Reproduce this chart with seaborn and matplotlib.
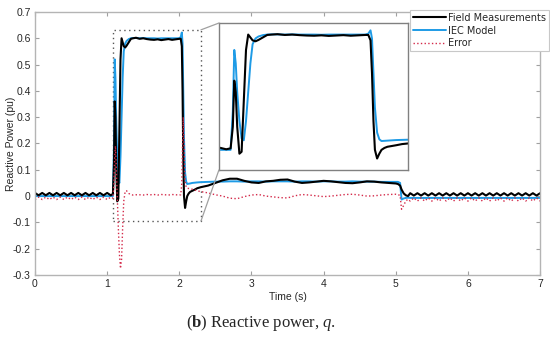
import matplotlib
matplotlib.use('Agg')
import pandas as pd
import matplotlib.pyplot as plt
from matplotlib.patches import Rectangle, ConnectionPatch
import seaborn as sns

# sample times (s), denser around the transients
time = [
    0.00, 0.05, 0.10, 0.15, 0.20, 0.25, 0.30, 0.35, 0.40, 0.45, 0.50,
    0.55, 0.60, 0.65, 0.70, 0.75, 0.80, 0.85, 0.90, 0.95, 1.00, 1.05,
    1.08, 1.095, 1.105, 1.115, 1.125, 1.14, 1.155, 1.17, 1.185, 1.20,
    1.215, 1.23, 1.25, 1.27, 1.30, 1.33, 1.36, 1.40,
    1.45, 1.50, 1.55, 1.60, 1.65, 1.70, 1.75, 1.80, 1.85, 1.90, 1.95, 2.00,
    2.02, 2.035, 2.045, 2.055, 2.065, 2.08, 2.095, 2.11, 2.13, 2.15, 2.18,
    2.21, 2.25, 2.30,
    2.40, 2.50, 2.60, 2.70, 2.80, 2.90, 3.00, 3.10, 3.20, 3.30, 3.40,
    3.50, 3.60, 3.70, 3.80, 3.90, 4.00, 4.10, 4.20, 4.30, 4.40, 4.50,
    4.60, 4.70, 4.80, 4.90, 5.00,
    5.03, 5.06, 5.08, 5.11, 5.14, 5.17,
    5.20, 5.25, 5.30, 5.35, 5.40, 5.45, 5.50, 5.55, 5.60, 5.65, 5.70,
    5.75, 5.80, 5.85, 5.90, 5.95, 6.00, 6.05, 6.10, 6.15, 6.20, 6.25,
    6.30, 6.35, 6.40, 6.45, 6.50, 6.55, 6.60, 6.65, 6.70, 6.75, 6.80,
    6.85, 6.90, 6.95, 7.00,
]

field = [
    0.012, 0.003, 0.012, 0.003, 0.012, 0.003, 0.012, 0.003, 0.012, 0.003, 0.012,
    0.003, 0.012, 0.003, 0.012, 0.003, 0.012, 0.003, 0.012, 0.003, 0.012, 0.003,
    0.008, 0.12, 0.36, 0.30, 0.12, -0.02, -0.01, 0.25, 0.52, 0.60,
    0.585, 0.57, 0.565, 0.572, 0.585, 0.598, 0.600, 0.602,
    0.598, 0.600, 0.597, 0.595, 0.594, 0.596, 0.593, 0.595, 0.597, 0.594, 0.596, 0.598,
    0.598, 0.57, 0.40, 0.15, 0.00, -0.045, -0.02, 0.000, 0.010, 0.016, 0.020,
    0.024, 0.030, 0.034,
    0.040, 0.050, 0.060, 0.066, 0.066, 0.058, 0.052, 0.050, 0.056, 0.058, 0.062,
    0.063, 0.055, 0.050, 0.052, 0.055, 0.058, 0.056, 0.053, 0.050, 0.049, 0.052,
    0.056, 0.055, 0.052, 0.050, 0.048,
    0.046, 0.040, 0.025, 0.010, 0.003, 0.000,
    0.011, 0.002, 0.011, 0.002, 0.011, 0.002, 0.011, 0.002, 0.011, 0.002, 0.011,
    0.002, 0.011, 0.002, 0.011, 0.002, 0.011, 0.002, 0.011, 0.002, 0.011, 0.002,
    0.011, 0.002, 0.011, 0.002, 0.011, 0.002, 0.011, 0.002, 0.011, 0.002, 0.011,
    0.002, 0.011, 0.002, 0.011,
]

iec = [
    0.000, 0.000, 0.000, 0.000, 0.000, 0.000, 0.000, 0.000, 0.000, 0.000, 0.000,
    0.000, 0.000, 0.000, 0.000, 0.000, 0.000, 0.000, 0.000, 0.000, 0.000, 0.000,
    0.000, 0.20, 0.52, 0.45, 0.30, 0.15, 0.06, 0.05, 0.15, 0.30,
    0.45, 0.55, 0.58, 0.59, 0.597, 0.600, 0.601, 0.601,
    0.600, 0.601, 0.600, 0.600, 0.600, 0.599, 0.600, 0.600, 0.600, 0.600, 0.600, 0.600,
    0.605, 0.622, 0.58, 0.40, 0.22, 0.09, 0.055, 0.046, 0.047, 0.048, 0.050,
    0.051, 0.052, 0.053,
    0.054, 0.055, 0.055, 0.056, 0.056, 0.055, 0.056, 0.056, 0.055, 0.056, 0.056,
    0.056, 0.055, 0.056, 0.056, 0.055, 0.056, 0.056, 0.055, 0.055, 0.056, 0.055,
    0.055, 0.055, 0.054, 0.054, 0.054,
    0.054, 0.050, -0.013, -0.009, -0.007, -0.006,
    -0.007, -0.007, -0.007, -0.007, -0.007, -0.007, -0.007, -0.007, -0.007, -0.007, -0.007,
    -0.007, -0.007, -0.007, -0.007, -0.007, -0.007, -0.007, -0.007, -0.007, -0.007, -0.007,
    -0.007, -0.007, -0.007, -0.007, -0.007, -0.007, -0.007, -0.007, -0.007, -0.007, -0.007,
    -0.007, -0.007, -0.007, -0.007,
]

error = [
    -0.013, -0.004, -0.013, -0.004, -0.013, -0.004, -0.013, -0.004, -0.013, -0.004, -0.013,
    -0.004, -0.013, -0.004, -0.013, -0.004, -0.013, -0.004, -0.013, -0.004, -0.013, -0.004,
    -0.008, 0.05, 0.15, 0.19, 0.12, 0.00, -0.12, -0.22, -0.275, -0.24,
    -0.12, -0.02, 0.018, 0.020, 0.010, 0.005, 0.004, 0.005,
    0.005, 0.004, 0.006, 0.005, 0.006, 0.004, 0.006, 0.005, 0.004, 0.006, 0.005, 0.004,
    0.005, 0.05, 0.20, 0.30, 0.20, 0.06, 0.035, 0.030, 0.029, 0.028, 0.026,
    0.024, 0.020, 0.017,
    0.012, 0.005, 0.000, -0.008, -0.010, -0.002, 0.004, 0.006, 0.000, -0.003, -0.006,
    -0.007, 0.001, 0.006, 0.004, 0.001, -0.002, 0.000, 0.003, 0.006, 0.007, 0.004,
    0.000, 0.001, 0.004, 0.006, 0.007,
    0.006, 0.002, -0.050, -0.035, -0.018, -0.012,
    -0.019, -0.007, -0.019, -0.007, -0.019, -0.007, -0.019, -0.007, -0.019, -0.007, -0.019,
    -0.007, -0.019, -0.007, -0.019, -0.007, -0.019, -0.007, -0.019, -0.007, -0.019, -0.007,
    -0.019, -0.007, -0.019, -0.007, -0.019, -0.007, -0.019, -0.007, -0.019, -0.007, -0.019,
    -0.007, -0.019, -0.007, -0.019,
]

x_ticks = [0, 1, 2, 3, 4, 5, 6, 7]
y_ticks = [-0.3, -0.2, -0.1, 0, 0.1, 0.2, 0.3, 0.4, 0.5, 0.6, 0.7]
y_tick_labels = ['-0.3', '-0.2', '-0.1', '0', '0.1', '0.2', '0.3', '0.4', '0.5', '0.6', '0.7']

df = pd.DataFrame({'t': time, 'field': field, 'iec': iec, 'error': error})

sns.set_style('ticks')
plt.rcParams['font.family'] = ['Liberation Sans', 'DejaVu Sans']
plt.rcParams['mathtext.fontset'] = 'custom'
plt.rcParams['mathtext.rm'] = 'Liberation Serif'
plt.rcParams['mathtext.it'] = 'Liberation Serif:italic'
plt.rcParams['mathtext.bf'] = 'Liberation Serif:bold'

black = '#000000'
blue = '#1e9be6'
red = '#d42a4a'
frame_gray = '#b4b4b4'

fig = plt.figure(figsize=(5.5, 3.47), dpi=100)
ax = fig.add_axes([0.0636, 0.2075, 0.9184, 0.758])

sns.lineplot(data=df, x='t', y='iec', ax=ax, color=blue, lw=1.4, label='IEC Model')
sns.lineplot(data=df, x='t', y='field', ax=ax, color=black, lw=1.5, label='Field Measurements')
sns.lineplot(data=df, x='t', y='error', ax=ax, color=red, lw=1.0, linestyle=':', label='Error')

ax.set_xlim(0, 7)
ax.set_ylim(-0.3, 0.7)
ax.set_xticks(x_ticks)
ax.set_xticklabels([str(v) for v in x_ticks])
ax.set_yticks(y_ticks)
ax.set_yticklabels(y_tick_labels)
ax.set_xlabel('Time (s)', fontsize=7.5, labelpad=2)
ax.set_ylabel('Reactive Power (pu)', fontsize=7.5)
ax.yaxis.set_label_coords(-0.037, 0.5)
ax.tick_params(direction='in', top=True, right=True, length=3, width=0.8,
               color='#a0a0a0', labelsize=7.5, pad=3)
for s in ax.spines.values():
    s.set_color(frame_gray)
    s.set_linewidth(1.0)

handles, labels = ax.get_legend_handles_labels()
if ax.get_legend() is not None:
    ax.get_legend().remove()
order = [labels.index('Field Measurements'), labels.index('IEC Model'), labels.index('Error')]
leg = fig.legend([handles[i] for i in order], [labels[i] for i in order],
                 loc='upper right', bbox_to_anchor=(0.998, 0.972), frameon=True,
                 fancybox=False, edgecolor='#c8c8c8', framealpha=1,
                 borderaxespad=0, borderpad=0.3, handlelength=3.4,
                 handletextpad=0.2, labelspacing=0.3,
                 prop={'family': 'DejaVu Sans', 'size': 7})
leg.get_frame().set_linewidth(0.8)

# zoom box
ax.add_patch(Rectangle((1.08, -0.095), 1.22, 0.727, fill=False,
                       edgecolor='#555555', lw=1.0, linestyle=(0, (1, 2.5))))

# inset
axins = fig.add_axes([0.398, 0.510, 0.3436, 0.4236])
sns.lineplot(data=df, x='t', y='iec', ax=axins, color=blue, lw=1.4)
sns.lineplot(data=df, x='t', y='field', ax=axins, color=black, lw=1.5)
axins.set_xlim(1.0, 2.29)
axins.set_ylim(-0.105, 0.66)
axins.set_xticks([])
axins.set_yticks([])
axins.set_xlabel('')
axins.set_ylabel('')
for s in axins.spines.values():
    s.set_color('#808080')
    s.set_linewidth(1.0)

for ya, yb in [(0.632, 1), (-0.095, 0)]:
    con = ConnectionPatch(xyA=(2.3, ya), coordsA=ax.transData,
                          xyB=(0, yb), coordsB=axins.transAxes,
                          color='#a0a0a0', lw=0.9)
    fig.add_artist(con)

fig.text(0.475, 0.069, r'($\mathbf{b}$) Reactive power, $q$.',
         ha='center', va='center', fontsize=12, family='Liberation Serif')

fig.savefig('out.png', dpi=100)
